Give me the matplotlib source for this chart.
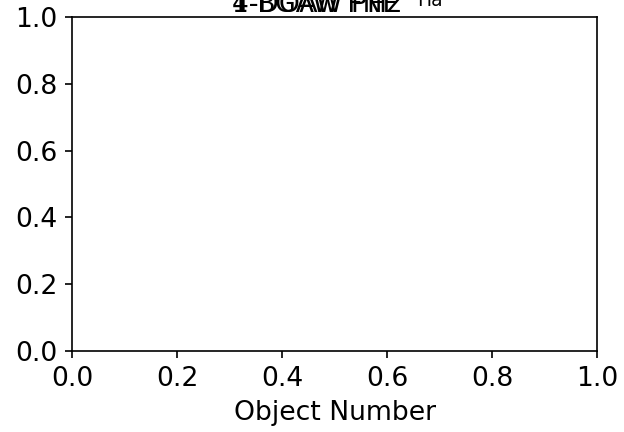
import matplotlib
matplotlib.use("Agg")
import matplotlib.pyplot as plt

x_limits = [0.0, 1.0]
y_limits = [0.0, 1.0]
x_label = "Object Number"
title_parts = ["4-DOAW PHz", "1-BGAW FNE"]
title_tail = "Ha"

plt.rcParams["font.size"] = 12.8

fig = plt.figure(figsize=(4.16, 2.88), dpi=150)
ax = fig.add_axes([0.1154, 0.1875, 0.957 - 0.1154, 0.9606 - 0.1875])
ax.set_xlim(*x_limits)
ax.set_ylim(*y_limits)
ax.set_xlabel(x_label)

# overlapping titles that run off the top of the figure
for part in title_parts:
    fig.text(0.372, 0.973, part, ha="left", va="baseline", fontsize=12.8)
fig.text(0.668, 0.985, title_tail, ha="left", va="baseline", fontsize=9)

fig.savefig("out.png", dpi=150)
